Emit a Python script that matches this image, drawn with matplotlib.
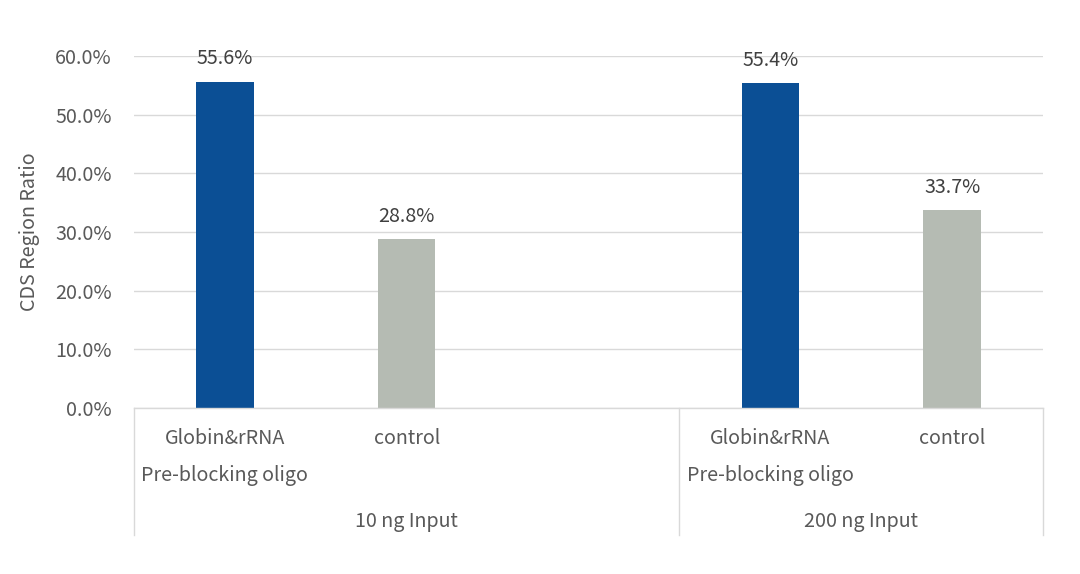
import matplotlib
matplotlib.use("Agg")
import matplotlib.pyplot as plt
from matplotlib.transforms import blended_transform_factory
from matplotlib.lines import Line2D
from matplotlib.ticker import PercentFormatter

plt.rcParams['font.family'] = ['Noto Sans CJK SC', 'DejaVu Sans']

# Data
groups = ["10 ng Input", "200 ng Input"]
categories = ["Globin&rRNA\nPre-blocking oligo", "control", "", "Globin&rRNA\nPre-blocking oligo", "control"]
values = [0.556, 0.288, None, 0.554, 0.337]
labels = ["55.6%", "28.8%", None, "55.4%", "33.7%"]
bar_colors = ["#0B4F95", "#B5BBB3", None, "#0B4F95", "#B5BBB3"]
group_spans = [(0, 2), (3, 4)]  # slot index ranges for groups
yticks = [0.0, 0.1, 0.2, 0.3, 0.4, 0.5, 0.6]

W, H = 1080, 574
fig = plt.figure(figsize=(W / 100, H / 100), dpi=100)
ax = fig.add_axes([134 / W, 1 - 408 / H, (1043 - 134) / W, (408 - 56) / H])

text_color = "#595959"
grid_color = "#D9D9D9"
fs = 14.2

for i, (v, c, lab) in enumerate(zip(values, bar_colors, labels)):
    if v is None:
        continue
    ax.bar(i, v, width=0.315, color=c, zorder=3)
    ax.annotate(lab, (i, v), xytext=(0, 16.5), textcoords="offset points",
                ha="center", va="center", fontsize=fs, color="#404040")

ax.set_xlim(-0.5, len(values) - 0.5)
ax.set_ylim(0, 0.6)
ax.set_yticks(yticks)
ax.yaxis.set_major_formatter(PercentFormatter(1.0, decimals=1))
ax.tick_params(axis="y", length=0, pad=16, labelsize=fs, labelcolor=text_color)
ax.set_xticks([])
ax.grid(axis="y", color=grid_color, linewidth=1, zorder=0)
for s in ["top", "right", "left"]:
    ax.spines[s].set_visible(False)
ax.spines["bottom"].set_color(grid_color)
ax.spines["bottom"].set_linewidth(1)
ax.spines["bottom"].set_zorder(4)

ax.set_ylabel("CDS Region Ratio", fontsize=fs, color=text_color, labelpad=11)

trans = blended_transform_factory(ax.transData, fig.transFigure)

# Category labels
for i, cat in enumerate(categories):
    if not cat:
        continue
    lines = cat.split("\n")
    for k, line in enumerate(lines):
        y_px = 438 + k * 37
        ax.text(i, 1 - y_px / H, line, transform=trans, ha="center", va="center",
                fontsize=fs, color=text_color, clip_on=False)

# Group labels and separators
seps = set()
for g, (a, b) in zip(groups, group_spans):
    xc = (a - 0.5 + b + 0.5) / 2
    ax.text(xc, 1 - 521 / H, g, transform=trans, ha="center", va="center",
            fontsize=fs, color=text_color, clip_on=False)
    seps.add(a - 0.5)
    seps.add(b + 0.5)
for xs in sorted(seps):
    fig.add_artist(Line2D([xs, xs], [1 - 408 / H, 1 - 535 / H], transform=trans,
                          color=grid_color, linewidth=1))

fig.savefig("out.png", dpi=100, facecolor="white")
